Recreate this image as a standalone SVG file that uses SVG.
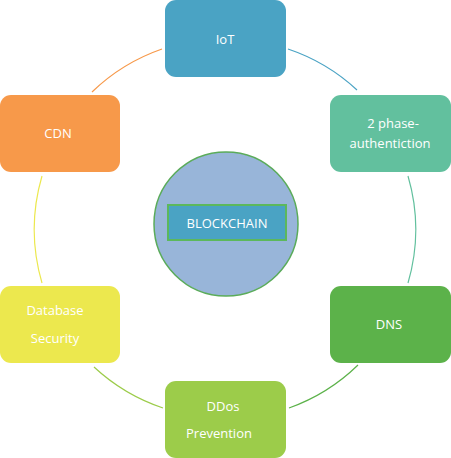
<svg xmlns="http://www.w3.org/2000/svg" width="451" height="458" viewBox="0 0 451 458">
<style>
.box{stroke:none}
.t{font-family:"Open Sans","Liberation Sans",sans-serif;font-size:13px;fill:#ffffff;text-anchor:middle}
.arc{fill:none;stroke-width:1.2}
</style>
<rect width="451" height="458" fill="#ffffff"/>
<g id="connectors">
<path class="arc" stroke="#4aa3c4" d="M288,49 A190.5,190.5 0 0 1 357,90"/>
<path class="arc" stroke="#62c09e" d="M408,176 A190.5,190.5 0 0 1 408,283"/>
<path class="arc" stroke="#5cb24a" d="M358,365 A190.5,190.5 0 0 1 289,408"/>
<path class="arc" stroke="#9ccc4a" d="M163,408 A190.5,190.5 0 0 1 94,367"/>
<path class="arc" stroke="#ece84e" d="M42,283 A190.5,190.5 0 0 1 42,176"/>
<path class="arc" stroke="#f7994a" d="M92,92 A190.5,190.5 0 0 1 162,49"/>
</g>
<g id="center">
<circle cx="226" cy="224" r="72" fill="#98b5d9" stroke="#5aab5a" stroke-width="1.5"/>
<rect x="168" y="205" width="118" height="35" fill="#4aa3c4" stroke="#5cb85c" stroke-width="2"/>
<text class="t" x="227" y="227.5">BLOCKCHAIN</text>
</g>
<g id="iot">
<rect class="box" x="165" y="0" width="121" height="77" rx="11" fill="#4aa3c4"/>
<text class="t" x="225" y="44">IoT</text>
</g>
<g id="auth">
<rect class="box" x="330" y="95" width="121" height="77" rx="11" fill="#62c09e"/>
<text class="t" x="393" y="128">2 phase-</text>
<text class="t" x="390" y="148">authentiction</text>
</g>
<g id="dns">
<rect class="box" x="330" y="286" width="121" height="77" rx="11" fill="#5cb24a"/>
<text class="t" x="389" y="329">DNS</text>
</g>
<g id="ddos">
<rect class="box" x="165" y="381" width="121" height="77" rx="11" fill="#9ccc4a"/>
<text class="t" x="223" y="411">DDos</text>
<text class="t" x="219" y="438">Prevention</text>
</g>
<g id="database">
<rect class="box" x="0" y="286" width="120" height="77" rx="11" fill="#ece84e"/>
<text class="t" x="55" y="315">Database</text>
<text class="t" x="55" y="343">Security</text>
</g>
<g id="cdn">
<rect class="box" x="0" y="95" width="120" height="77" rx="11" fill="#f7994a"/>
<text class="t" x="58" y="138">CDN</text>
</g>
</svg>
